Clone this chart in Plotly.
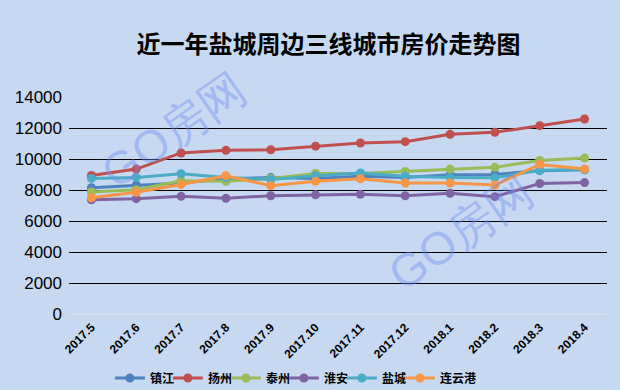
import plotly.graph_objects as go

months = ["2017.5", "2017.6", "2017.7", "2017.8", "2017.9", "2017.10",
          "2017.11", "2017.12", "2018.1", "2018.2", "2018.3", "2018.4"]

zhenjiang = [8150, 8320, 8450, 8720, 8800, 8750, 8880, 8810, 8990, 9000, 9250, 9300]
yangzhou = [8940, 9350, 10390, 10560, 10600, 10830, 11030, 11120, 11590, 11720, 12150, 12580]
taizhou = [7870, 8020, 8600, 8560, 8740, 9070, 9060, 9200, 9350, 9460, 9910, 10060]
huaian = [7370, 7440, 7590, 7460, 7630, 7690, 7720, 7630, 7790, 7570, 8420, 8480]
yancheng = [8750, 8810, 9050, 8800, 8670, 8920, 9100, 8880, 8810, 8790, 9270, 9330]
lianyungang = [7500, 7850, 8360, 8920, 8280, 8560, 8720, 8450, 8450, 8320, 9650, 9350]

series = [
    ("镇江", zhenjiang, "#4F81BD"),
    ("扬州", yangzhou, "#C0504D"),
    ("泰州", taizhou, "#9BBB59"),
    ("淮安", huaian, "#8064A2"),
    ("盐城", yancheng, "#4BACC6"),
    ("连云港", lianyungang, "#F79646"),
]

fig = go.Figure()
for name, vals, color in series:
    fig.add_trace(go.Scatter(
        x=months, y=vals, name=name, mode="lines+markers",
        line=dict(color=color, width=3),
        marker=dict(color=color, size=9, symbol="circle"),
    ))
# spacer legend entries so the last real label is not clipped
for _ in range(2):
    fig.add_trace(go.Scatter(x=[None], y=[None], name=" ", mode="lines",
                             line=dict(color="rgba(0,0,0,0)"), hoverinfo="skip"))

bg = "#C6D9F0"
fig.update_layout(
    width=620, height=390,
    paper_bgcolor=bg, plot_bgcolor=bg,
    margin=dict(l=69, r=13, t=97, b=76, autoexpand=False),
    title=dict(text="<b>近一年盐城周边三线城市房价走势图</b>",
               x=0.53, xanchor="center", y=0.885, yanchor="middle",
               font=dict(family="Noto Sans CJK SC", size=24, color="#000000")),
    font=dict(family="Noto Sans CJK SC", color="#000000"),
    showlegend=True,
    legend=dict(orientation="h", x=0.076, xanchor="left", y=-0.295, yanchor="middle",
                font=dict(family="Noto Sans CJK SC", size=12, color="#000000", weight="bold"),
                bgcolor="rgba(0,0,0,0)", entrywidth=13, entrywidthmode="pixels",
                itemwidth=30, tracegroupgap=0),
    xaxis=dict(type="category", range=[-0.5, 11.5], showgrid=False, zeroline=False,
               showline=False, ticks="", tickangle=-45, automargin=False,
               ticklabelstandoff=3,
               tickfont=dict(family="Liberation Sans", size=12, color="#000000", weight="bold")),
    yaxis=dict(range=[0, 14000], dtick=2000, showgrid=True, gridcolor="#000000", gridwidth=1,
               zeroline=True, zerolinecolor="#D5E2F3", zerolinewidth=1, showline=False,
               ticks="", tickformat="d", automargin=False, ticklabelstandoff=6,
               tickfont=dict(family="Liberation Sans", size=17, color="#000000")),
)

for (xp, yp) in [(174, 130), (461, 232)]:
    fig.add_annotation(
        text="GO房网", xref="paper", yref="paper",
        x=(xp - 69) / 538, y=(314 - yp) / 217, xanchor="center", yanchor="middle",
        showarrow=False, textangle=-35,
        font=dict(family="Liberation Sans", size=46, color="rgba(110,140,240,0.42)"),
    )

fig.write_html("out.html", config={"displayModeBar": False},
               post_script="document.body.style.margin='0';document.body.style.padding='0';")
